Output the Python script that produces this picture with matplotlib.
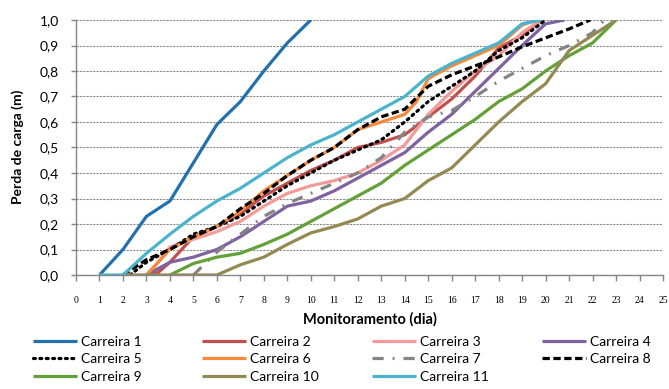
import matplotlib
matplotlib.use('Agg')
import matplotlib.pyplot as plt
from matplotlib.ticker import FuncFormatter, MultipleLocator

plt.rcParams['font.family'] = ['Lato', 'DejaVu Sans']

# dias de monitoramento e perda de carga (m) de cada carreira
dias_c1 = [1, 2, 3, 4, 5, 6, 7, 8, 9, 10]
perda_c1 = [0.0, 0.10, 0.23, 0.29, 0.44, 0.59, 0.68, 0.80, 0.91, 1.0]

dias_c2 = [3, 3.5, 4, 5, 6, 7, 8, 9, 10, 11, 12, 13, 14, 15, 16, 17, 18, 19, 19.8]
perda_c2 = [0.0, 0.01, 0.05, 0.15, 0.19, 0.24, 0.31, 0.36, 0.41, 0.45, 0.50, 0.52, 0.55, 0.62, 0.69, 0.78, 0.89, 0.94, 1.0]

dias_c3 = [3, 3.5, 4, 5, 6, 7, 8, 9, 10, 11, 12, 13, 14, 15, 16, 17, 18, 19, 19.8]
perda_c3 = [0.0, 0.05, 0.11, 0.14, 0.17, 0.21, 0.27, 0.32, 0.35, 0.37, 0.40, 0.45, 0.51, 0.63, 0.72, 0.80, 0.86, 0.95, 1.0]

dias_c4 = [3, 4, 5, 6, 7, 8, 9, 10, 11, 12, 13, 14, 15, 16, 17, 18, 19, 20, 20.8]
perda_c4 = [0.0, 0.05, 0.07, 0.10, 0.15, 0.21, 0.27, 0.29, 0.33, 0.38, 0.43, 0.48, 0.56, 0.63, 0.72, 0.81, 0.90, 0.985, 1.0]

dias_c5 = [2.3, 3, 4, 5, 6, 7, 8, 9, 10, 11, 12, 13, 14, 15, 16, 17, 18, 19, 20]
perda_c5 = [0.0, 0.05, 0.10, 0.16, 0.19, 0.23, 0.29, 0.35, 0.40, 0.45, 0.49, 0.53, 0.60, 0.68, 0.74, 0.80, 0.88, 0.93, 1.0]

dias_c6 = [3, 4, 5, 6, 7, 8, 9, 10, 11, 12, 13, 14, 14.5, 15, 16, 17, 18, 19, 19.6]
perda_c6 = [0.0, 0.10, 0.15, 0.19, 0.25, 0.33, 0.39, 0.45, 0.50, 0.57, 0.60, 0.63, 0.68, 0.77, 0.82, 0.86, 0.90, 0.98, 1.0]

dias_c7 = [5, 6, 7, 8, 9, 10, 11, 12, 13, 14, 15, 16, 17, 18, 19, 20, 21, 22, 22.5]
perda_c7 = [0.0, 0.09, 0.16, 0.23, 0.28, 0.32, 0.36, 0.40, 0.46, 0.56, 0.62, 0.645, 0.70, 0.76, 0.81, 0.86, 0.90, 0.95, 1.0]

dias_c8 = [2, 3, 4, 5, 6, 7, 8, 9, 10, 11, 12, 13, 14, 15, 16, 17, 18, 19, 20, 21, 21.9]
perda_c8 = [0.0, 0.06, 0.10, 0.15, 0.19, 0.26, 0.32, 0.39, 0.45, 0.50, 0.57, 0.62, 0.65, 0.74, 0.785, 0.82, 0.855, 0.895, 0.93, 0.965, 1.0]

dias_c9 = [4, 5, 6, 7, 8, 9, 10, 11, 12, 13, 14, 15, 16, 17, 18, 19, 20, 21, 22, 23]
perda_c9 = [0.0, 0.045, 0.07, 0.085, 0.12, 0.16, 0.21, 0.26, 0.31, 0.36, 0.43, 0.49, 0.55, 0.61, 0.68, 0.73, 0.80, 0.86, 0.91, 1.0]

dias_c10 = [2, 6, 7, 8, 9, 10, 11, 12, 13, 14, 15, 16, 17, 18, 19, 20, 21, 22, 23]
perda_c10 = [0.0, 0.0, 0.04, 0.07, 0.12, 0.165, 0.19, 0.22, 0.27, 0.30, 0.37, 0.42, 0.51, 0.60, 0.68, 0.75, 0.88, 0.94, 1.0]

dias_c11 = [1, 2, 3, 4, 5, 6, 7, 8, 9, 10, 11, 12, 13, 14, 15, 16, 17, 18, 19, 19.8]
perda_c11 = [0.0, 0.0, 0.085, 0.16, 0.23, 0.29, 0.34, 0.40, 0.46, 0.51, 0.55, 0.60, 0.65, 0.70, 0.78, 0.83, 0.87, 0.91, 0.985, 1.0]

series = [
    ('Carreira 1', dias_c1, perda_c1, dict(color='#2270AE')),
    ('Carreira 2', dias_c2, perda_c2, dict(color='#C0504D')),
    ('Carreira 3', dias_c3, perda_c3, dict(color='#F29B98')),
    ('Carreira 4', dias_c4, perda_c4, dict(color='#7F62A0')),
    ('Carreira 5', dias_c5, perda_c5, dict(color='black', linestyle=(0, (0.6, 1.4)), dash_capstyle='round')),
    ('Carreira 6', dias_c6, perda_c6, dict(color='#F58A3D')),
    ('Carreira 7', dias_c7, perda_c7, dict(color='#848484', linestyle=(0, (3.5, 2.8, 0.6, 2.8)))),
    ('Carreira 8', dias_c8, perda_c8, dict(color='black', linestyle=(0, (2.3, 1.1)))),
    ('Carreira 9', dias_c9, perda_c9, dict(color='#64A038')),
    ('Carreira 10', dias_c10, perda_c10, dict(color='#938953')),
    ('Carreira 11', dias_c11, perda_c11, dict(color='#4BB4CC')),
]

fig = plt.figure(figsize=(6.69, 3.89), dpi=100)
ax = fig.add_axes([76 / 669, 1 - 275 / 389, 587 / 669, 255 / 389])

linhas = []
for nome, x, y, estilo in series:
    ln, = ax.plot(x, y, lw=2.3, label=nome, solid_capstyle='butt', **estilo)
    linhas.append(ln)

ax.set_xlim(0, 25)
ax.set_ylim(0, 1.0)
ax.xaxis.set_major_locator(MultipleLocator(1))
ax.yaxis.set_major_locator(MultipleLocator(0.1))
ax.yaxis.set_major_formatter(FuncFormatter(lambda v, p: f'{v:.1f}'.replace('.', ',')))

ax.grid(axis='y', color='#8a8a8a', linestyle=(0, (2, 1)), lw=0.8)
ax.set_axisbelow(True)
for s in ['top', 'right']:
    ax.spines[s].set_visible(False)
for s in ['left', 'bottom']:
    ax.spines[s].set_color('#868686')
    ax.spines[s].set_linewidth(1.0)

ax.tick_params(axis='x', length=4, width=1, color='#868686', pad=11, labelsize=7)
ax.tick_params(axis='y', length=3.5, width=1, color='#868686', pad=9, labelsize=10)
for t in ax.get_xticklabels():
    t.set_family('Liberation Serif')

fig.text(369.5 / 669, 1 - 319 / 389, 'Monitoramento (dia)', ha='center', va='center',
         fontsize=10.5, fontweight='bold')
fig.text(18 / 669, 1 - 147 / 389, 'Perda de carga (m)', ha='center', va='center',
         rotation=90, fontsize=10, fontweight='bold')

# legenda em 4 colunas, preenchida por linha
colunas_x = [33, 202, 372, 542]
for c, x0 in enumerate(colunas_x):
    idx = list(range(c, len(linhas), 4))
    fig.legend([linhas[i] for i in idx], [series[i][0] for i in idx],
               loc='upper left', bbox_to_anchor=(x0 / 669, 1 - 336 / 389),
               frameon=False, fontsize=10, handlelength=3.2, handletextpad=0.25,
               labelspacing=0.38, borderpad=0, borderaxespad=0)

fig.savefig('out.png', dpi=100)
